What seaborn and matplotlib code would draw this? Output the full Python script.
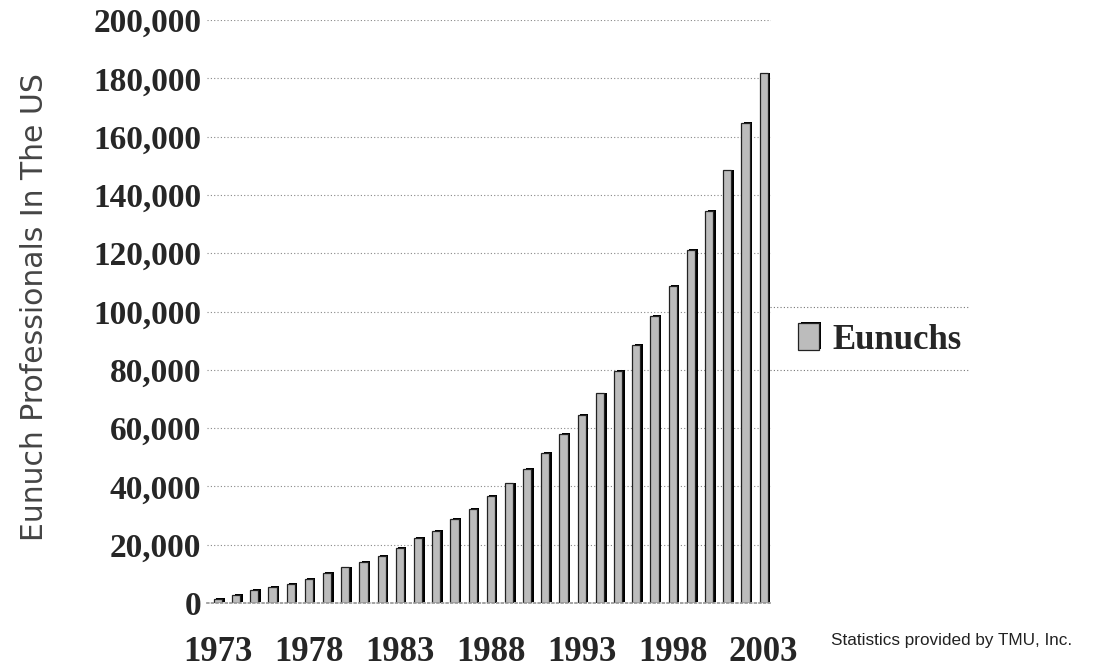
import matplotlib
matplotlib.use("Agg")
import matplotlib.pyplot as plt
import matplotlib.patheffects as pe
from matplotlib.lines import Line2D
from matplotlib import font_manager
import seaborn as sns
import pandas as pd

# ---- data ----
years = list(range(1973, 2004))
eunuchs = [1500, 2800, 4400, 5600, 6500, 8400, 10300, 12200, 14200, 16200,
           19000, 22200, 24800, 28800, 32400, 36800, 41000, 45900, 51600, 57900,
           64500, 71900, 79500, 88500, 98400, 108800, 121200, 134400, 148400, 164600,
           181700]
xtick_labels = ["1973", "1978", "1983", "1988", "1993", "1998", "2003"]
ytick_values = list(range(0, 200001, 20000))
series_name = "Eunuchs"
y_title = "Eunuch Professionals In The US"
footnote = "Statistics provided by TMU, Inc."

df = pd.DataFrame({"year": [str(y) for y in years], "value": eunuchs})

sns.set_theme(style="white")
plt.rcParams["font.family"] = ["DejaVu Sans"]

avail = {f.name for f in font_manager.fontManager.ttflist}
narrow = "Liberation Sans Narrow" if "Liberation Sans Narrow" in avail else "Liberation Sans"
foot_size = 14 if narrow == "Liberation Sans Narrow" else 12.3
serif = "Liberation Serif"

fig = plt.figure(figsize=(11, 6.72), dpi=100)
W, H = 1100, 672
ax = fig.add_axes([207 / W, 1 - 603 / H, (771 - 207) / W, (603 - 20) / H])

sns.barplot(data=df, x="year", y="value", ax=ax, color="#bcbcbc",
            saturation=1, width=0.45, edgecolor="#222222", linewidth=0.9,
            label=series_name)
for p in ax.patches:
    p.set_path_effects([pe.SimplePatchShadow(offset=(1.8, 0.6), shadow_rgbFace="black", alpha=1.0),
                        pe.Normal()])

ax.set_xlim(-0.6, 30.4)
ax.set_ylim(0, 200000)
ax.set_yticks(ytick_values)
ax.set_yticklabels([f"{v:,}" for v in ytick_values], fontfamily=serif,
                   fontweight="bold", fontsize=24)
ax.set_xticks([years.index(int(t)) for t in xtick_labels])
ax.set_xticklabels(xtick_labels, fontfamily=serif, fontweight="bold", fontsize=25)
ax.tick_params(axis="y", length=0, pad=4)
ax.tick_params(axis="x", length=0, pad=24)
ax.set_xlabel("")
ax.set_ylabel("")
ax.yaxis.grid(True, linestyle=(0, (1, 2)), color="#888888", linewidth=0.8)
ax.set_axisbelow(True)
for s in ["top", "right", "left"]:
    ax.spines[s].set_visible(False)
ax.spines["bottom"].set_color("#999999")
ax.spines["bottom"].set_linestyle(":")

# legend
leg = ax.legend(loc="center left", bbox_to_anchor=(798 / W, 1 - 340 / H),
                bbox_transform=fig.transFigure, frameon=False,
                prop={"family": serif, "weight": "bold", "size": 25},
                handlelength=0.6, handleheight=0.8, handletextpad=0.4,
                borderpad=0, borderaxespad=0)
for y in (307, 370):
    fig.add_artist(Line2D([770 / W, 970 / W], [1 - y / H, 1 - y / H],
                          transform=fig.transFigure, linestyle=(0, (1, 2)),
                          color="#777777", linewidth=0.8))

fig.text(35 / W, 1 - 307 / H, y_title, rotation=90, ha="center", va="center",
         fontsize=21.5, color="#444444", family="DejaVu Sans")
fig.text(831 / W, 1 - 640 / H, footnote, ha="left", va="center",
         fontsize=foot_size, color="#222222", family=narrow)

fig.savefig("out.png", dpi=100)
